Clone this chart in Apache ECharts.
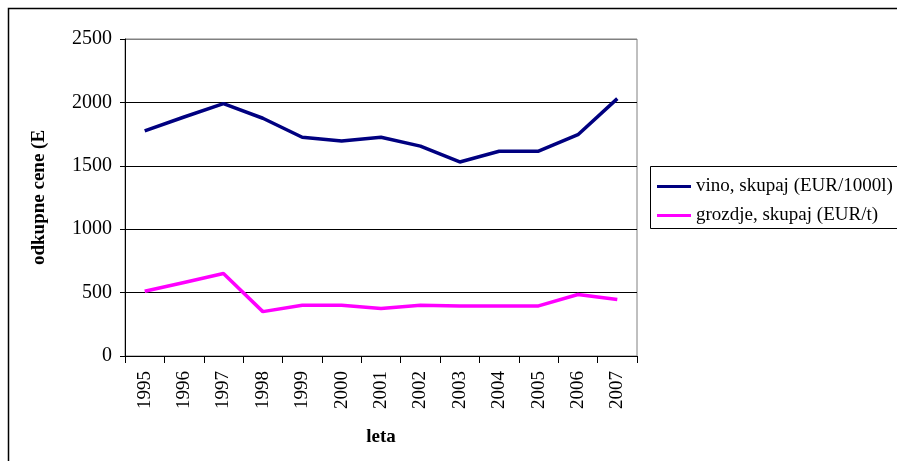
<!DOCTYPE html>
<html>
<head>
<meta charset="utf-8">
<script src="https://cdn.jsdelivr.net/npm/echarts@6/dist/echarts.min.js"></script>
<style>
  html, body { margin: 0; padding: 0; background: #fff; }
  #chart { width: 897px; height: 461px; }
</style>
</head>
<body>
<div id="chart"></div>
<script>
// podatki
const years = ['1995', '1996', '1997', '1998', '1999', '2000', '2001', '2002', '2003', '2004', '2005', '2006', '2007'];
const vino = [1775, 1885, 1990, 1875, 1725, 1695, 1725, 1655, 1530, 1615, 1615, 1745, 2030];
const grozdje = [510, 580, 650, 350, 400, 400, 375, 400, 395, 395, 395, 485, 445];
const seriesNames = ['vino, skupaj (EUR/1000l)', 'grozdje, skupaj (EUR/t)'];

const font = 'Liberation Serif';
const chart = echarts.init(document.getElementById('chart'));

chart.setOption({
  animation: false,
  textStyle: { fontFamily: font },
  grid: {
    left: 125, top: 39, width: 512, height: 317,
    show: true, borderColor: '#808080', borderWidth: 1
  },
  legend: {
    orient: 'vertical',
    left: 652, top: 172,
    itemWidth: 34, itemHeight: 3, itemGap: 10,
    icon: 'rect',
    textStyle: { fontFamily: font, fontSize: 19, color: '#000' },
    data: seriesNames
  },
  xAxis: {
    type: 'category',
    data: years,
    name: 'leta',
    nameLocation: 'middle',
    nameGap: 72,
    nameTextStyle: { fontFamily: font, fontSize: 19, fontWeight: 'bold', color: '#000' },
    axisLine: { lineStyle: { color: '#000', width: 1 } },
    axisTick: { show: true, length: 7, lineStyle: { color: '#000' } },
    axisLabel: { rotate: 90, fontSize: 19, color: '#000', margin: 15 }
  },
  yAxis: {
    type: 'value',
    min: 0, max: 2500, interval: 500,
    name: 'odkupne cene (E',
    nameLocation: 'middle',
    nameGap: 76,
    nameTextStyle: { fontFamily: font, fontSize: 19, fontWeight: 'bold', color: '#000' },
    axisLine: { show: true, lineStyle: { color: '#000', width: 1 } },
    axisTick: { show: true, length: 5, lineStyle: { color: '#000' } },
    axisLabel: { fontSize: 20, color: '#000', margin: 13, formatter: v => String(v) },
    splitLine: { lineStyle: { color: ['#000', '#000', '#000', '#000', '#000', '#808080'], width: 1 } }
  },
  series: [
    {
      name: seriesNames[0], type: 'line', data: vino,
      symbol: 'none', lineStyle: { color: '#000080', width: 3.5 }, itemStyle: { color: '#000080' }
    },
    {
      name: seriesNames[1], type: 'line', data: grozdje,
      symbol: 'none', lineStyle: { color: '#FF00FF', width: 3.5 }, itemStyle: { color: '#FF00FF' }
    }
  ],
  graphic: [
    // zunanji okvir
    { type: 'rect', shape: { x: 8.5, y: 8.5, width: 1000, height: 600 }, style: { fill: 'none', stroke: '#000', lineWidth: 1.5 } },
    // okvir legende
    { type: 'rect', shape: { x: 650.5, y: 166.5, width: 300, height: 62 }, style: { fill: 'none', stroke: '#000', lineWidth: 1 } }
  ]
});
</script>
</body>
</html>
